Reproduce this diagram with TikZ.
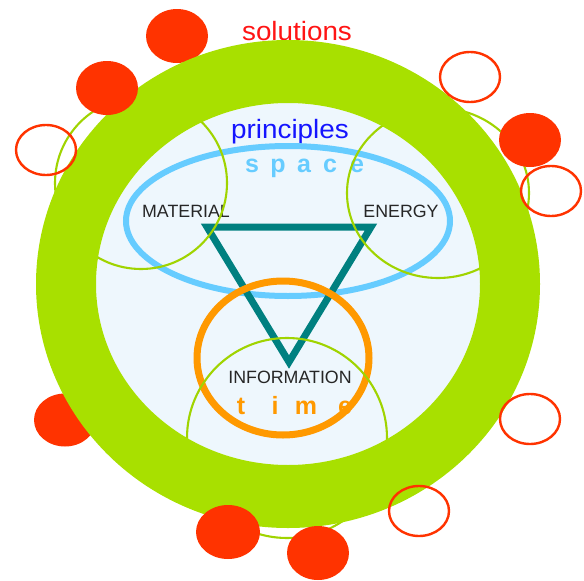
\documentclass[tikz,border=0pt]{standalone}
\usepackage{fontspec}
\setmainfont{Liberation Sans}
\newfontfamily\widefont[FakeStretch=1.05]{Liberation Sans}
\usetikzlibrary{positioning}

\definecolor{ringgreen}{RGB}{168,224,0}
\definecolor{thingreen}{RGB}{160,212,0}
\definecolor{innerblue}{RGB}{238,247,253}
\definecolor{skyblue}{RGB}{102,204,255}
\definecolor{amber}{RGB}{255,153,0}
\definecolor{dotred}{RGB}{255,51,0}
\definecolor{solred}{RGB}{255,20,20}
\definecolor{stratgreen}{RGB}{30,90,0}
\definecolor{princblue}{RGB}{20,20,255}
\definecolor{triteal}{RGB}{0,128,128}

\begin{document}
\begin{tikzpicture}[
  x=1pt, y=-1pt,
  big/.style={font=\widefont\fontsize{26.5}{30}\selectfont, inner sep=0pt, anchor=base},
  lbl/.style={font=\fontsize{17.8}{20}\selectfont, text=black!85, inner sep=0pt, anchor=base},
  spaced/.style={font=\bfseries\fontsize{25}{28}\selectfont, inner sep=0pt, anchor=base},
  thin/.style={draw=thingreen, line width=2.1pt},
  dot/.style={fill=dotred},
  hole/.style={draw=dotred, line width=2.4pt},
]
\useasboundingbox (0,0) rectangle (584,581);
% inner field
\fill[innerblue] (288,284) ellipse [x radius=192, y radius=181];
% spaced words, under the rings
\foreach \ch/\xx [count=\i] in {s/252,p/278,a/304,c/330,e/357}
  \node[spaced, text=skyblue] (sp\i) at (\xx,172) {\ch};
\foreach \ch/\xx [count=\i] in {t/241,i/275,m/306,e/345}
  \node[spaced, text=amber] (tm\i) at (\xx,414) {\ch};
% labels
\node[big, text=solred]     (solutions)  at (297,40)  {solutions};
\node[big, text=stratgreen] (strategies) at (283,90)  {strategies};
\node[big, text=princblue]  (principles) at (290,138) {principles};
\node[lbl] (material) at (186,217) {MATERIAL};
\node[lbl] (energy)   at (401,217) {ENERGY};
\node[lbl] (info)     at (290,383) {INFORMATION};
% space, triangle, time
\draw[skyblue, line width=6pt] (288,221) ellipse [x radius=162, y radius=75];
\draw[triteal, line width=7pt, miter limit=3] (207,227) -- (371,227) -- (289,362) -- cycle;
\draw[amber, line width=7pt] (283,358) ellipse [x radius=86, y radius=77];
% thin circles
\draw[thin] (141,183) circle [radius=86];
\draw[thin] (438,193) ellipse [x radius=91, y radius=85];
\draw[thin] (287,438) circle [radius=100];
% dots behind the ring
\fill[dot] (177,36) ellipse [x radius=31, y radius=27];
\fill[dot] (65,420) ellipse [x radius=31, y radius=26.5];
% ring
\fill[ringgreen, even odd rule] (288,284) ellipse [x radius=252, y radius=244]
  (288,284) ellipse [x radius=192, y radius=181];
% dots over the ring
\fill[dot] (107,88)  ellipse [x radius=31, y radius=27];
\fill[dot] (530,140) ellipse [x radius=31, y radius=27];
\fill[dot] (228,532) ellipse [x radius=32, y radius=27];
\fill[dot] (318,553) ellipse [x radius=31, y radius=27];
% empty circles
\draw[hole] (46,150)  ellipse [x radius=30, y radius=25];
\draw[hole] (470,77)  ellipse [x radius=30, y radius=25];
\draw[hole] (551,191) ellipse [x radius=30, y radius=25];
\draw[hole] (530,419) ellipse [x radius=30, y radius=25];
\draw[hole] (419,511) ellipse [x radius=30, y radius=25];
\end{tikzpicture}
\end{document}
